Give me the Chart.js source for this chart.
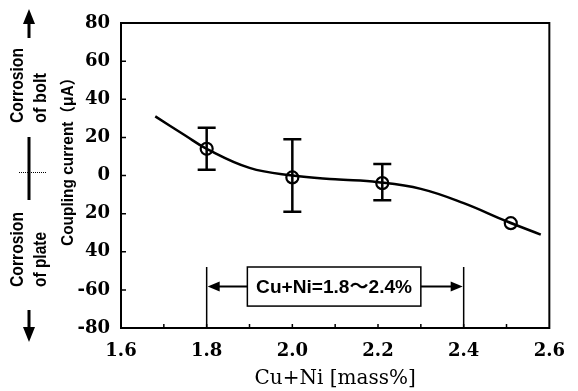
<!DOCTYPE html>
<html>
<head>
<meta charset="utf-8">
<script src="https://cdn.jsdelivr.net/npm/chart.js@4"></script>
<style>
  html, body { margin: 0; padding: 0; background: #fff; }
  #wrap { width: 578px; height: 391px; position: relative; }
</style>
</head>
<body>
<div id="wrap"><canvas id="couplingChart"></canvas></div>
<script>
// measured points (mean and error bar ends)
const cuNi = [1.8, 2.0, 2.21, 2.51];
const current = [14, -1, -4, -25];
const errHigh = [25, 19, 6, -24];
const errLow = [3, -19, -13, -26];

// fitted curve
const curveX = [1.68, 1.75, 1.8, 1.9, 2.0, 2.1, 2.2, 2.3, 2.4, 2.5, 2.58];
const curveY = [31, 21, 14, 4, 0, -2, -3.5, -7, -14.5, -24, -31];

// tick labels as printed on the original
const yTicks = [-80, -60, -40, -20, 0, 20, 40, 60, 80];
const yTickLabels = ['-80', '-60', '40', '20', '0', '20', '40', '60', '80'];

// range annotation
const rangeFrom = 1.8;
const rangeTo = 2.4;
const rangeLabel = 'Cu+Ni=1.8～2.4%';
const yTitle = 'Coupling current（μA）';

document.addEventListener('DOMContentLoaded', function () {
    const canvas = document.getElementById('couplingChart');
    const ctx = canvas.getContext('2d');

    const serif = '"DejaVu Serif", serif';
    const sans = '"Liberation Sans", "Noto Sans CJK JP", Arial, sans-serif';

    function arrowHead(c, x, y, dir, len, half) {
        c.beginPath();
        if (dir === 'left') { c.moveTo(x, y); c.lineTo(x + len, y - half); c.lineTo(x + len, y + half); }
        if (dir === 'right') { c.moveTo(x, y); c.lineTo(x - len, y - half); c.lineTo(x - len, y + half); }
        if (dir === 'up') { c.moveTo(x, y); c.lineTo(x - half, y + len); c.lineTo(x + half, y + len); }
        if (dir === 'down') { c.moveTo(x, y); c.lineTo(x - half, y - len); c.lineTo(x + half, y - len); }
        c.closePath();
        c.fill();
    }

    // text squeezed/stretched along its run to a given length
    function fitText(c, text, x, y, len, vertical, align) {
        const w = c.measureText(text).width;
        c.save();
        c.translate(x, y);
        if (vertical) c.rotate(-Math.PI / 2);
        c.scale(len / w, 1);
        c.textAlign = align;
        c.textBaseline = 'middle';
        c.fillText(text, 0, 0);
        c.restore();
    }

    const decorPlugin = {
        id: 'decor',
        afterDatasetsDraw(chart) {
            const c = chart.ctx;
            const area = chart.chartArea;
            const xs = chart.scales.x;
            const ys = chart.scales.y;
            c.save();
            c.strokeStyle = '#000';
            c.fillStyle = '#000';

            // frame
            c.lineWidth = 2;
            c.strokeRect(area.left, area.top, area.right - area.left, area.bottom - area.top);

            // inner ticks
            c.lineWidth = 1.5;
            c.beginPath();
            yTicks.forEach(v => {
                const py = ys.getPixelForValue(v);
                c.moveTo(area.left, py);
                c.lineTo(area.left + 5, py);
            });
            for (let i = 1; i < 10; i++) {
                const px = xs.getPixelForValue(1.6 + i * 0.1);
                c.moveTo(px, area.bottom);
                c.lineTo(px, area.bottom - 4);
            }
            c.stroke();

            // error bars
            c.lineWidth = 2.5;
            cuNi.forEach((x, i) => {
                if (errHigh[i] - errLow[i] < 4) return;
                const px = xs.getPixelForValue(x);
                const top = ys.getPixelForValue(errHigh[i]);
                const bot = ys.getPixelForValue(errLow[i]);
                c.beginPath();
                c.moveTo(px, top); c.lineTo(px, bot);
                c.moveTo(px - 9, top); c.lineTo(px + 9, top);
                c.moveTo(px - 9, bot); c.lineTo(px + 9, bot);
                c.stroke();
            });

            // range annotation
            const x1 = xs.getPixelForValue(rangeFrom);
            const x2 = xs.getPixelForValue(rangeTo);
            const boxTop = ys.getPixelForValue(-48);
            const boxBot = ys.getPixelForValue(-68.5);
            const midY = (boxTop + boxBot) / 2;
            c.lineWidth = 1.5;
            c.beginPath();
            c.moveTo(x1, area.bottom); c.lineTo(x1, boxTop);
            c.moveTo(x2, area.bottom); c.lineTo(x2, boxTop);
            c.stroke();
            const boxL = xs.getPixelForValue(1.895);
            const boxR = xs.getPixelForValue(2.3);
            c.strokeRect(boxL, boxTop, boxR - boxL, boxBot - boxTop);
            c.font = 'bold 19px ' + sans;
            fitText(c, rangeLabel, (boxL + boxR) / 2, midY + 1, 156, false, 'center');
            c.lineWidth = 2;
            c.beginPath();
            c.moveTo(boxL, midY); c.lineTo(x1 + 10, midY);
            c.moveTo(boxR, midY); c.lineTo(x2 - 10, midY);
            c.stroke();
            arrowHead(c, x1 + 1, midY, 'left', 12, 5);
            arrowHead(c, x2 - 1, midY, 'right', 12, 5);

            // y axis title
            c.font = 'bold 16px ' + sans;
            fitText(c, yTitle, 69, 158, 176, true, 'center');

            // side notes: corrosion direction
            c.font = 'bold 18px ' + sans;
            fitText(c, 'Corrosion', 18, 123, 75, true, 'left');
            fitText(c, 'of bolt', 41, 123, 50, true, 'left');
            fitText(c, 'Corrosion', 18, 287, 75, true, 'left');
            fitText(c, 'of plate', 41, 287, 55, true, 'left');

            c.lineWidth = 3;
            c.beginPath();
            c.moveTo(29, 38); c.lineTo(29, 22);
            c.moveTo(29, 310); c.lineTo(29, 328);
            c.moveTo(29, 137); c.lineTo(29, 200);
            c.stroke();
            arrowHead(c, 29, 9, 'up', 15, 6);
            arrowHead(c, 29, 342, 'down', 15, 6);
            c.lineWidth = 1;
            c.setLineDash([1, 1]);
            c.beginPath();
            c.moveTo(19, 172.5); c.lineTo(47, 172.5);
            c.stroke();
            c.restore();
        }
    };

    new Chart(ctx, {
        type: 'scatter',
        data: {
            datasets: [
                {
                    label: 'fit',
                    data: curveX.map((x, i) => ({ x: x, y: curveY[i] })),
                    showLine: true,
                    borderColor: '#000',
                    borderWidth: 2.5,
                    pointRadius: 0,
                    tension: 0.4
                },
                {
                    label: 'measured',
                    data: cuNi.map((x, i) => ({ x: x, y: current[i] })),
                    showLine: false,
                    pointStyle: 'circle',
                    pointRadius: 6,
                    borderWidth: 2.2,
                    borderColor: '#000',
                    backgroundColor: 'rgba(0,0,0,0)'
                }
            ]
        },
        options: {
            responsive: true,
            maintainAspectRatio: false,
            animation: false,
            layout: { padding: { top: 23, right: 16, bottom: 0, left: 0 } },
            plugins: { legend: { display: false }, tooltip: { enabled: false } },
            scales: {
                x: {
                    type: 'linear',
                    min: 1.6,
                    max: 2.6,
                    grid: { display: false, drawTicks: false },
                    border: { display: false },
                    ticks: {
                        stepSize: 0.2,
                        padding: 13,
                        color: '#000',
                        font: { family: serif, size: 18, weight: 'bold' },
                        callback: v => Number(v).toFixed(1)
                    },
                    title: {
                        display: true,
                        text: 'Cu+Ni [mass%]',
                        color: '#000',
                        font: { family: serif, size: 20 },
                        padding: { top: 0, bottom: 0 }
                    },
                    afterFit: s => { s.height = 63; }
                },
                y: {
                    min: -80,
                    max: 80,
                    grid: { display: false, drawTicks: false },
                    border: { display: false },
                    afterBuildTicks: s => { s.ticks = yTicks.map(v => ({ value: v })); },
                    ticks: {
                        padding: 11,
                        color: '#000',
                        font: { family: serif, size: 18, weight: 'bold' },
                        callback: v => yTickLabels[yTicks.indexOf(v)]
                    },
                    afterFit: s => { s.width = 121; }
                }
            }
        },
        plugins: [decorPlugin]
    });
});
</script>
</body>
</html>
